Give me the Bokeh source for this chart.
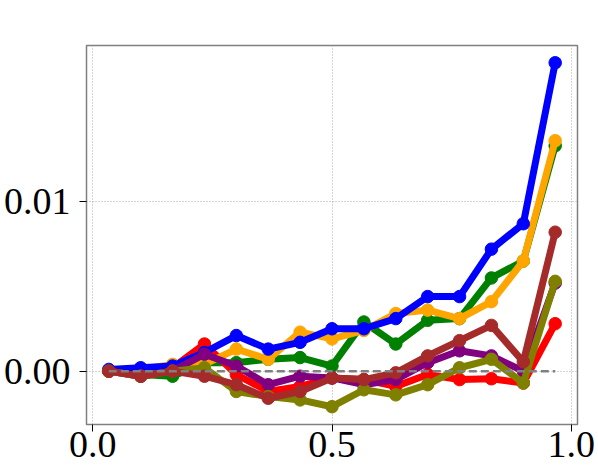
from bokeh.plotting import figure
from bokeh.models import Range1d, FixedTicker, NumeralTickFormatter
from bokeh.embed import file_html
from bokeh.resources import INLINE

x = [(i + 0.5) / 15 for i in range(15)]

red    = [0.0, -0.0002, 0.0002, 0.0016, -0.0002, -0.0012, -0.0009, -0.0004, -0.0005, -0.0009, -0.0002, -0.0005, -0.00045, -0.0007, 0.0028]
green  = [0.0, -0.0002, -0.0003, 0.0005, 0.0005, 0.0007, 0.0008, 0.0003, 0.0029, 0.0016, 0.0030, 0.0031, 0.0055, 0.0065, 0.0133]
orange = [0.0, 0.0001, 0.0004, 0.0004, 0.0013, 0.0007, 0.0023, 0.0019, 0.0024, 0.0034, 0.0036, 0.0031, 0.0041, 0.0065, 0.0136]
blue   = [0.0001, 0.0002, 0.0003, 0.0011, 0.0021, 0.0013, 0.0017, 0.0025, 0.0025, 0.0031, 0.0044, 0.0044, 0.0072, 0.0087, 0.0182]
purple = [0.0, -0.0003, 0.0, 0.0010, 0.0003, -0.0008, -0.0003, -0.0004, -0.0008, -0.0005, 0.0005, 0.0012, 0.0009, 0.0, 0.0052]
olive  = [0.0, -0.0003, 0.0, 0.0002, -0.0012, -0.0015, -0.0017, -0.0021, -0.0011, -0.0014, -0.0008, 0.0002, 0.0007, -0.0007, 0.0053]
brown  = [0.0, -0.0003, 0.0, -0.0003, -0.0008, -0.0016, -0.0012, -0.0004, -0.0005, -0.0001, 0.0009, 0.0018, 0.0027, 0.00055, 0.0082]

series = [
    (green, "#008000"),
    (red, "#ff0000"),
    (orange, "#ffa500"),
    (blue, "#0000ff"),
    (purple, "#800080"),
    (olive, "#808000"),
    (brown, "#a52a2a"),
]

x_ticks = [0.0, 0.5, 1.0]
y_ticks = [0.0, 0.01]

p = figure(width=598, height=467, output_backend="svg", toolbar_location=None,
           x_range=Range1d(-0.0133, 1.0133), y_range=Range1d(-0.00315, 0.01922),
           min_border_left=85, min_border_top=45, min_border_right=21, min_border_bottom=43)
p.background_fill_color = "white"
p.border_fill_color = "white"
p.outline_line_color = "#808080"
p.outline_line_width = 1.5

for ax in (p.xaxis[0], p.yaxis[0]):
    ax.axis_line_color = None
    ax.major_tick_line_color = "black"
    ax.major_tick_line_width = 1
    ax.major_tick_out = 7
    ax.major_tick_in = 0
    ax.minor_tick_line_color = None
    ax.major_label_text_font = "Liberation Serif"
    ax.major_label_text_font_size = "38px"
    ax.major_label_text_color = "black"

p.xaxis[0].ticker = FixedTicker(ticks=x_ticks)
p.yaxis[0].ticker = FixedTicker(ticks=y_ticks)
p.xaxis[0].formatter = NumeralTickFormatter(format="0.0")
p.yaxis[0].formatter = NumeralTickFormatter(format="0.00")
p.xaxis[0].major_label_standoff = 0
p.yaxis[0].major_label_standoff = 9

for g in (p.xgrid[0], p.ygrid[0]):
    g.grid_line_color = "#a8a8a8"
    g.grid_line_dash = "1 2"
    g.grid_line_width = 1

for ys, c in series:
    p.line(x, ys, line_color=c, line_width=7)
    p.scatter(x, ys, marker="circle", size=12.5, fill_color=c, line_color=c)

p.line([x[0], x[-1]], [0.0, 0.0], line_color="#808080", line_width=2.5, line_dash="8 4")

open("out.html", "w").write(file_html(p, INLINE))
